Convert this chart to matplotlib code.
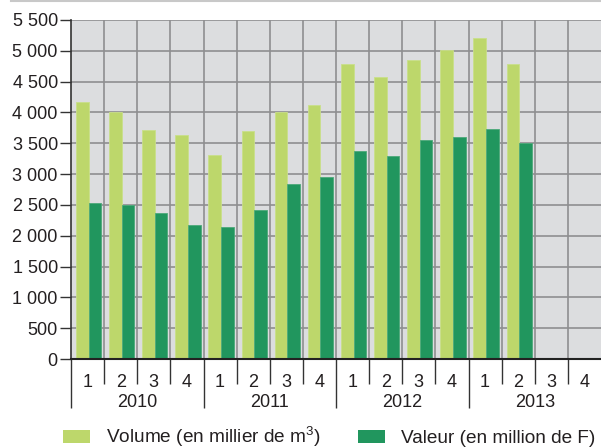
import matplotlib
matplotlib.use("Agg")
import matplotlib.pyplot as plt
from matplotlib.patches import Patch
from matplotlib.lines import Line2D
import matplotlib.transforms as mtransforms

plt.rcParams['font.family'] = ['Liberation Sans', 'DejaVu Sans']
plt.rcParams['mathtext.fontset'] = 'custom'
plt.rcParams['mathtext.rm'] = 'Liberation Sans'
plt.rcParams['mathtext.it'] = 'Liberation Sans'

years = ["2010", "2011", "2012", "2013"]
quarters = ["1", "2", "3", "4"]
volume = [4170, 4010, 3720, 3630, 3310, 3700, 4005, 4115,
          4785, 4575, 4850, 5010, 5210, 4790, None, None]
valeur = [2530, 2495, 2365, 2175, 2135, 2415, 2835, 2950,
          3370, 3295, 3550, 3600, 3725, 3500, None, None]
yticks = [0, 500, 1000, 1500, 2000, 2500, 3000, 3500, 4000, 4500, 5000, 5500]
ytick_labels = ["0", "500", "1 000", "1 500", "2 000", "2 500", "3 000",
                "3 500", "4 000", "4 500", "5 000", "5 500"]
legend_labels = ["Volume (en millier de m$^{3}$)", "Valeur (en million de F)"]

c_light = "#BDD76B"
c_dark = "#21965E"
c_bg = "#DCDDDF"
c_grid = "#8E8E90"
c_text = "#231F20"
fs = 13
fs_leg = 13.7

fig = plt.figure(figsize=(6.01, 4.48), dpi=100)
ax = fig.add_axes([71/601, 89/448, 530/601, 339/448])
ax.set_facecolor(c_bg)

n = len(years) * len(quarters)
bw = 0.38
for i in range(n):
    if volume[i] is not None:
        ax.bar(i + 0.15, volume[i], width=bw, align='edge', color=c_light,
               edgecolor="#C9DF8A", linewidth=0.6, zorder=3)
    if valeur[i] is not None:
        ax.bar(i + 0.53, valeur[i], width=bw, align='edge', color=c_dark,
               edgecolor="#4CA97A", linewidth=0.6, zorder=3)

ax.set_xlim(0, n)
ax.set_ylim(0, 5500)

# grid
for y in yticks[1:]:
    ax.axhline(y, color=c_grid, linewidth=1.2, zorder=1)
for x in range(1, n):
    ax.axvline(x, color=c_grid, linewidth=1.2, zorder=1)

ax.set_yticks(yticks)
ax.set_yticklabels(ytick_labels, fontsize=fs, color=c_text)
ax.tick_params(axis='y', direction='out', length=8, width=1.0, color="#333333", pad=1.5)

# x ticks: long at year boundaries, short at quarter boundaries
ax.set_xticks([0, 4, 8, 12])
ax.set_xticks([i for i in range(1, n) if i % 4 != 0], minor=True)
ax.set_xticklabels([])
ax.tick_params(axis='x', which='major', direction='out', length=35, width=1.0, color="#333333")
ax.tick_params(axis='x', which='minor', direction='out', length=18, width=1.0, color="#333333")

for s in ['top', 'right']:
    ax.spines[s].set_visible(False)
ax.spines['left'].set_color("#333333")
ax.spines['left'].set_linewidth(1.2)
ax.spines['bottom'].set_color("#222222")
ax.spines['bottom'].set_linewidth(1.5)
ax.spines['bottom'].set_zorder(4)

trans = mtransforms.blended_transform_factory(ax.transData, fig.transFigure)
for yi, yr in enumerate(years):
    for qi, q in enumerate(quarters):
        ax.text(yi * 4 + qi + 0.5, (448 - 382) / 448, q, transform=trans,
                ha='center', va='center', fontsize=fs, color=c_text)
    ax.text(yi * 4 + 2, (448 - 402.5) / 448, yr, transform=trans,
            ha='center', va='center', fontsize=fs, color=c_text)

# top rule
fig.add_artist(Line2D([11/601, 1], [447/448, 447/448], color="#C8C8C8",
                      linewidth=1.5, transform=fig.transFigure))

handles = [Patch(facecolor=c_light, edgecolor='none'),
           Patch(facecolor=c_dark, edgecolor='none')]
fig.legend(handles, legend_labels, loc='center', ncol=2, frameon=False,
           bbox_to_anchor=(329.5/601, 11/448), fontsize=fs_leg,
           handlelength=1.42, handleheight=0.62, handletextpad=0.84,
           columnspacing=1.95, labelcolor=c_text, borderaxespad=0, borderpad=0)

fig.savefig("out.png", dpi=100)
